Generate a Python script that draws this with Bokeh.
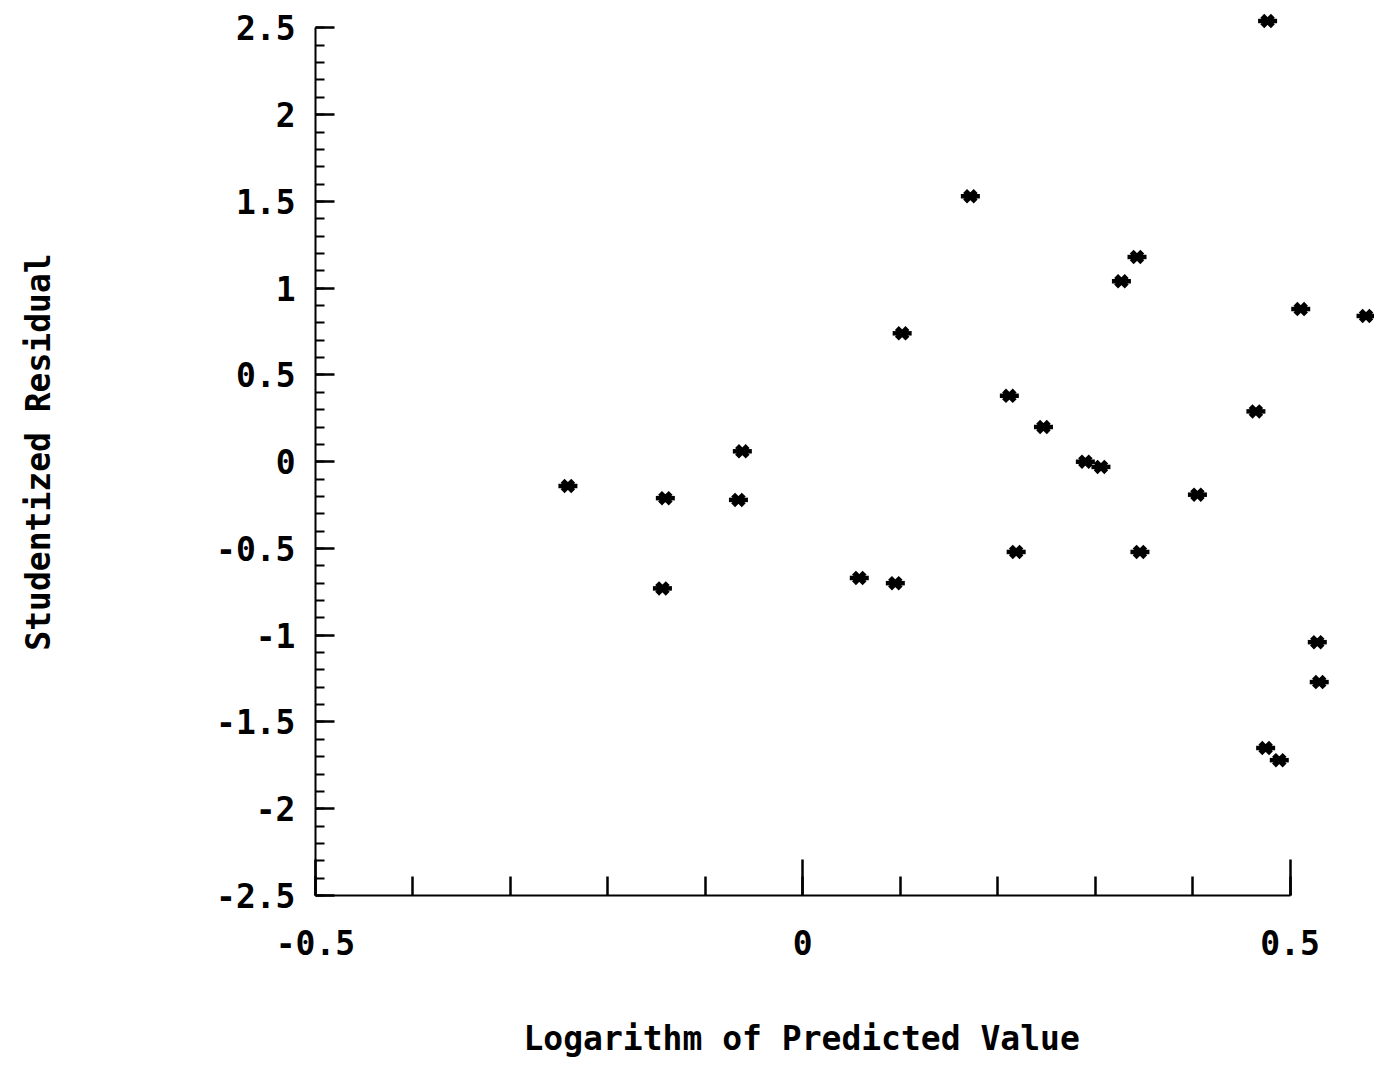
from bokeh.plotting import figure
from bokeh.models import FixedTicker, CustomJSTickFormatter, Range1d, Title, LinearAxis
from bokeh.embed import file_html
from bokeh.resources import INLINE

# ---- data ----
log_predicted = [0.477, 0.172, 0.343, 0.327, 0.511, 0.578, 0.102, 0.212, 0.465,
                 0.247, -0.062, 0.290, 0.306, -0.241, -0.141, -0.066, 0.405,
                 0.219, 0.346, 0.058, 0.095, -0.144, 0.528, 0.530, 0.475, 0.489]
studentized_residual = [2.54, 1.53, 1.18, 1.04, 0.88, 0.84, 0.74, 0.38, 0.29,
                        0.20, 0.06, 0.00, -0.03, -0.14, -0.21, -0.22, -0.19,
                        -0.52, -0.52, -0.67, -0.70, -0.73, -1.04, -1.27, -1.65, -1.72]

x_major_ticks = [-0.5, 0.0, 0.5]
x_minor_ticks = [-0.5, -0.4, -0.3, -0.2, -0.1, 0.0, 0.1, 0.2, 0.3, 0.4, 0.5]
y_major_ticks = [-2.5, -2.0, -1.5, -1.0, -0.5, 0.0, 0.5, 1.0, 1.5, 2.0, 2.5]
y_minor_ticks = [round(-2.5 + 0.1 * i, 1) for i in range(51)]

x_title = "Logarithm of Predicted Value"
y_title = "Studentized Residual"

FONT = "DejaVu Sans Mono"

p = figure(width=1374, height=1070,
           x_range=Range1d(-0.5, 0.5867), y_range=Range1d(-2.5, 2.612),
           output_backend="svg", toolbar_location=None,
           min_border_left=315, min_border_right=0,
           min_border_top=8, min_border_bottom=175)
p.outline_line_color = None
p.grid.visible = False
p.background_fill_color = "white"
p.border_fill_color = "white"

fmt = CustomJSTickFormatter(code="return tick.toString();")

xa = p.xaxis[0]
xa.bounds = (-0.5, 0.5)
xa.ticker = FixedTicker(ticks=x_major_ticks, minor_ticks=x_minor_ticks)
xa.formatter = fmt
xa.major_tick_in = 36
xa.major_tick_out = 0
xa.minor_tick_in = 19
xa.minor_tick_out = 0
xa.axis_line_width = 2
xa.major_tick_line_width = 2.5
xa.minor_tick_line_width = 2.5
xa.major_label_standoff = 34
xa.major_label_text_font = FONT
xa.major_label_text_font_style = "bold"
xa.major_label_text_font_size = "33px"
xa.major_label_text_color = "black"

ya = p.yaxis[0]
ya.bounds = (-2.5, 2.5)
ya.ticker = FixedTicker(ticks=y_major_ticks, minor_ticks=y_minor_ticks)
ya.formatter = fmt
ya.major_tick_in = 19
ya.major_tick_out = 0
ya.minor_tick_in = 9
ya.minor_tick_out = 0
ya.axis_line_width = 2
ya.major_tick_line_width = 2.5
ya.minor_tick_line_width = 2
ya.major_label_standoff = 20
ya.major_label_text_font = FONT
ya.major_label_text_font_style = "bold"
ya.major_label_text_font_size = "33px"
ya.major_label_text_color = "black"
ya.axis_label = y_title
ya.axis_label_standoff = 155
ya.axis_label_text_font = FONT
ya.axis_label_text_font_style = "bold"
ya.axis_label_text_font_size = "33px"
ya.axis_label_text_color = "black"

# bow-tie shaped markers
p.scatter(log_predicted, studentized_residual, marker="x", size=15,
          line_color="black", line_width=5.5)
p.scatter(log_predicted, studentized_residual, marker="dash", size=19,
          line_color="black", line_width=4.5)

# invisible spacer between the tick labels and the x-axis title
spacer = LinearAxis(ticker=FixedTicker(ticks=[0.0], minor_ticks=[]),
                    formatter=CustomJSTickFormatter(code="return '';"),
                    axis_line_color=None, major_tick_line_color=None,
                    minor_tick_line_color=None, major_tick_in=0,
                    major_tick_out=54, minor_tick_in=0, minor_tick_out=0,
                    major_label_standoff=0, major_label_text_font_size="1px")
p.add_layout(spacer, "below")

p.add_layout(Title(text=x_title, align="left", offset=208, standoff=10,
                   text_font=FONT, text_font_style="bold",
                   text_font_size="33px", text_color="black"), "below")

open("out.html", "w").write(file_html(p, INLINE))
